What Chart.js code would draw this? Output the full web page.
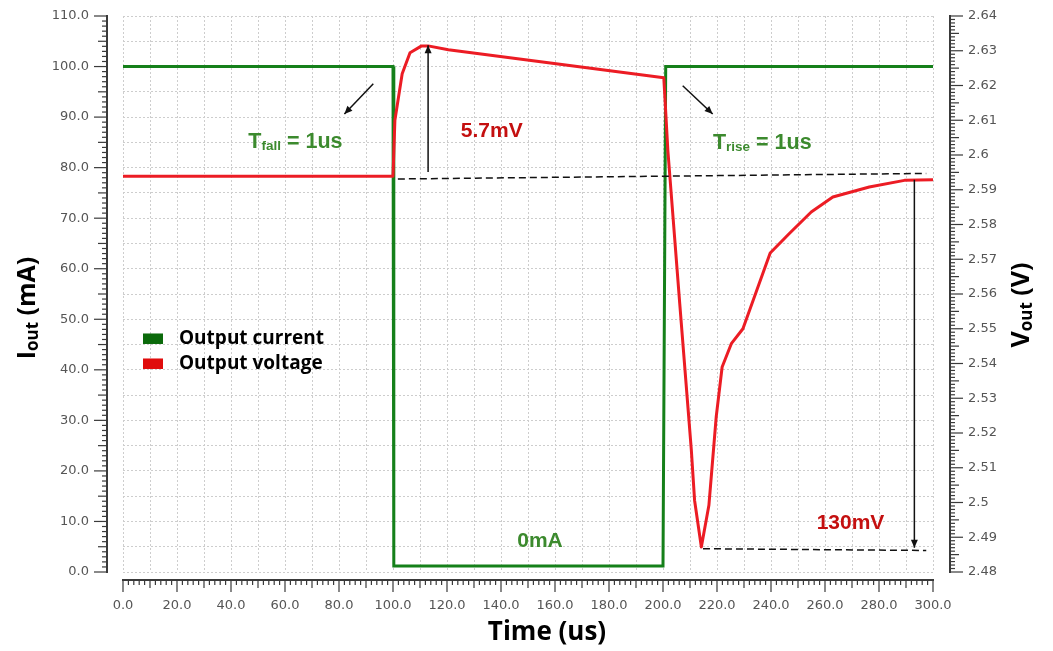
<!DOCTYPE html>
<html><head><meta charset="utf-8">
<script src="https://cdn.jsdelivr.net/npm/chart.js@4.4.1/dist/chart.umd.min.js"></script>
<style>html,body{margin:0;padding:0;background:#fff}canvas{display:block}</style>
</head><body>
<canvas id="c" width="1053" height="651"></canvas>
<script>
// ---- data ----
const currentTime   = [0, 100, 100.3, 200, 201, 300];
const currentValues = [100, 100, 1.2, 1.2, 100, 100];

const voltageTime   = [0, 100, 100.7, 103.4, 106.3, 110.6, 113, 120.5, 200.3, 201.8, 206.2, 210.5, 211.7, 214.2, 217.0, 219.7, 221.9, 225.3, 229.6, 234.5, 239.7, 246.8, 254.9, 262.9, 276.4, 289.4, 300];
const voltageValues = [2.5939, 2.5939, 2.6100, 2.6234, 2.6294, 2.6314, 2.6314, 2.6303, 2.6222, 2.6013, 2.5572, 2.5150, 2.5006, 2.4872, 2.4992, 2.5246, 2.5390, 2.5457, 2.5500, 2.5606, 2.5718, 2.5774, 2.5836, 2.5879, 2.5908, 2.5927, 2.5929];

const xTickLabels     = ['0.0','20.0','40.0','60.0','80.0','100.0','120.0','140.0','160.0','180.0','200.0','220.0','240.0','260.0','280.0','300.0'];
const xGridValues     = [0,10,20,30,40,50,60,70,80,90,100,110,120,130,140,150,160,170,180,190,200,210,220,230,240,250,260,270,280,290,300];
const leftTickLabels  = ['0.0','10.0','20.0','30.0','40.0','50.0','60.0','70.0','80.0','90.0','100.0','110.0'];
const leftGridValues  = [0,5,10,15,20,25,30,35,40,45,50,55,60,65,70,75,80,85,90,95,100,105,110];
const rightTickLabels = ['2.48','2.49','2.5','2.51','2.52','2.53','2.54','2.55','2.56','2.57','2.58','2.59','2.6','2.61','2.62','2.63','2.64'];

const xTickValues = xTickLabels.map(Number);
const leftTickValues = leftTickLabels.map(Number);
const rightTickValues = rightTickLabels.map(Number);

// annotation texts & anchor positions (data units: time, mA)
const annotationTexts = [
  {parts:[['T',21.5],['fall',13.5],[' = 1us',21.5]], t:46.4, i:85.3, color:'#3c8a2e'},
  {parts:[['T',21.5],['rise',13.5],[' = 1us',21.5]], t:218.5, i:85.1, color:'#3c8a2e'},
  {parts:[['5.7mV',21]], t:125.1, i:87.5, color:'#c40f0f'},
  {parts:[['130mV',21]], t:256.9, i:9.9, color:'#c40f0f'},
  {parts:[['0mA',21]], t:146.0, i:6.4, color:'#3c8a2e'}
];

const tickFont = {family:'"DejaVu Sans"', size:13};
const tickColor = '#555555';

function line(ctx,x1,y1,x2,y2){ctx.beginPath();ctx.moveTo(x1,y1);ctx.lineTo(x2,y2);ctx.stroke();}
function arrow(ctx,x1,y1,x2,y2){
  line(ctx,x1,y1,x2,y2);
  const a=Math.atan2(y2-y1,x2-x1), L=8, W=3.5;
  ctx.beginPath();
  ctx.moveTo(x2,y2);
  ctx.lineTo(x2-L*Math.cos(a)+W*Math.sin(a), y2-L*Math.sin(a)-W*Math.cos(a));
  ctx.lineTo(x2-L*Math.cos(a)-W*Math.sin(a), y2-L*Math.sin(a)+W*Math.cos(a));
  ctx.closePath(); ctx.fill();
}
function richText(ctx, parts, x, y, family, align){
  let total=0;
  const ws = parts.map(p=>{ctx.font='bold '+p[1]+'px '+family; const w=ctx.measureText(p[0]).width; total+=w; return w;});
  let cx = align==='center' ? x-total/2 : x;
  parts.forEach((p,k)=>{ctx.font='bold '+p[1]+'px '+family; ctx.fillText(p[0], cx, y+(p[2]||0)); cx+=ws[k];});
}

const decor = {
  id:'decor',
  afterDraw(chart){
    const {ctx, chartArea:ca, scales:{x,y,y1}} = chart;
    ctx.save();
    ctx.strokeStyle='#3a3a3a'; ctx.fillStyle='#3a3a3a';
    // left axis
    const lx = ca.left-16;
    ctx.lineWidth=2; line(ctx,lx,y.getPixelForValue(0)+1,lx,y.getPixelForValue(110)-1);
    ctx.lineWidth=1.2;
    for(let v=0; v<=110; v++){const len=v%10===0?13:(v%5===0?9:5); const py=y.getPixelForValue(v); line(ctx,lx-len,py,lx,py);}
    // right axis
    const rx = ca.right+17;
    ctx.lineWidth=2; line(ctx,rx,y1.getPixelForValue(2.48)+1,rx,y1.getPixelForValue(2.64)-1);
    ctx.lineWidth=1.2;
    for(let k=0; k<=160; k++){const len=k%10===0?13:(k%5===0?9:5); const py=y1.getPixelForValue(2.48+k*0.001); line(ctx,rx,py,rx+len,py);}
    // bottom axis
    const by = ca.bottom+8;
    ctx.lineWidth=2; line(ctx,x.getPixelForValue(0)-1,by,x.getPixelForValue(300)+1,by);
    ctx.lineWidth=1.2;
    for(let t=0; t<=300; t+=2){const len=t%20===0?12:(t%10===0?8:5); const px=x.getPixelForValue(t); line(ctx,px,by,px,by+len);}

    // dashed reference lines
    ctx.strokeStyle='#111'; ctx.fillStyle='#111'; ctx.lineWidth=1.5;
    ctx.setLineDash([7,4]);
    line(ctx,x.getPixelForValue(101.8),y1.getPixelForValue(2.5931),x.getPixelForValue(297.5),y1.getPixelForValue(2.5947));
    line(ctx,x.getPixelForValue(214.8),y1.getPixelForValue(2.4867),x.getPixelForValue(297.5),y1.getPixelForValue(2.4862));
    ctx.setLineDash([]);
    // arrows
    arrow(ctx,x.getPixelForValue(113),y1.getPixelForValue(2.5951),x.getPixelForValue(113),y1.getPixelForValue(2.6316));
    arrow(ctx,x.getPixelForValue(293.1),y1.getPixelForValue(2.5929),x.getPixelForValue(293.1),y1.getPixelForValue(2.4870));
    arrow(ctx,x.getPixelForValue(92.7),y.getPixelForValue(96.6),x.getPixelForValue(82.0),y.getPixelForValue(90.6));
    arrow(ctx,x.getPixelForValue(207.3),y.getPixelForValue(96.2),x.getPixelForValue(218.4),y.getPixelForValue(90.6));

    // annotation texts
    ctx.textBaseline='alphabetic'; ctx.textAlign='left';
    annotationTexts.forEach(a=>{
      ctx.fillStyle=a.color;
      const parts=a.parts.map((p,k)=>[p[0],p[1],(a.parts.length>1&&k===1)?2:0]);
      richText(ctx,parts,x.getPixelForValue(a.t),y.getPixelForValue(a.i)+7,'"Liberation Sans"','left');
    });

    // legend
    const lgX = ca.left+20, lgY = y.getPixelForValue(46.2);
    chart.data.datasets.forEach((ds,k)=>{
      const cy = lgY + k*25;
      ctx.fillStyle = ds.backgroundColor;
      ctx.fillRect(lgX, cy-5, 20, 10.5);
      ctx.fillStyle='#000'; ctx.font='bold 19px "Open Sans"'; ctx.textBaseline='middle';
      ctx.fillText(ds.label, lgX+36, cy);
    });

    // axis titles
    ctx.fillStyle='#000'; ctx.textBaseline='middle';
    ctx.save(); ctx.translate(28,308); ctx.rotate(-Math.PI/2);
    richText(ctx,[['I',25,0],['out',17,5],[' (mA)',25,0]],0,0,'"Open Sans"','center');
    ctx.restore();
    ctx.save(); ctx.translate(1022,305); ctx.rotate(-Math.PI/2);
    richText(ctx,[['V',25,0],['out',17,5],[' (V)',25,0]],0,0,'"Open Sans"','center');
    ctx.restore();
    richText(ctx,[['Time (us)',26,0]],547,633,'"Open Sans"','center');
    ctx.restore();
  }
};

new Chart(document.getElementById('c'), {
  type:'line',
  data:{datasets:[
    {label:'Output current', data:currentTime.map((t,k)=>({x:t,y:currentValues[k]})), yAxisID:'y',
     borderColor:'#15801a', backgroundColor:'#0b6a0b', borderWidth:3, pointRadius:0, tension:0, borderJoinStyle:'miter', order:1},
    {label:'Output voltage', data:voltageTime.map((t,k)=>({x:t,y:voltageValues[k]})), yAxisID:'y1',
     borderColor:'#ec1c24', backgroundColor:'#e00c0c', borderWidth:3, pointRadius:0, tension:0, borderJoinStyle:'round', order:0}
  ]},
  options:{
    responsive:false, animation:false, events:[],
    layout:{padding:{top:16,left:0,right:0,bottom:0}},
    plugins:{legend:{display:false}, tooltip:{enabled:false}},
    scales:{
      x:{type:'linear', position:'bottom', min:0, max:300,
         afterBuildTicks:s=>{s.ticks=xGridValues.map(v=>({value:v}));},
         afterFit:s=>{s.height=79;},
         ticks:{autoSkip:false, maxRotation:0, minRotation:0, padding:0, color:tickColor, font:tickFont,
                callback:v=>{const i=xTickValues.indexOf(v); return i>=0?xTickLabels[i]:'';}},
         grid:{color:'#cdcdcd', lineWidth:1, drawTicks:true, tickLength:26, tickColor:'rgba(0,0,0,0)'},
         border:{display:false, dash:[2,2]}},
      y:{type:'linear', position:'left', min:0, max:110,
         afterBuildTicks:s=>{s.ticks=leftGridValues.map(v=>({value:v}));},
         afterFit:s=>{s.width=123;},
         ticks:{autoSkip:false, padding:0, color:tickColor, font:tickFont,
                callback:v=>{const i=leftTickValues.indexOf(v); return i>=0?leftTickLabels[i]:'';}},
         grid:{color:'#cdcdcd', lineWidth:1, drawTicks:true, tickLength:34, tickColor:'rgba(0,0,0,0)'},
         border:{display:false, dash:[2,2]}},
      y1:{type:'linear', position:'right', min:2.48, max:2.64,
         afterBuildTicks:s=>{s.ticks=rightTickValues.map(v=>({value:v}));},
         afterFit:s=>{s.width=120;},
         ticks:{autoSkip:false, padding:0, color:tickColor, font:tickFont,
                callback:v=>{const i=rightTickValues.indexOf(v); return i>=0?rightTickLabels[i]:'';}},
         grid:{display:false, drawTicks:true, tickLength:35, tickColor:'rgba(0,0,0,0)', drawOnChartArea:false},
         border:{display:false}}
    }
  },
  plugins:[decor]
});
</script>
</body></html>
